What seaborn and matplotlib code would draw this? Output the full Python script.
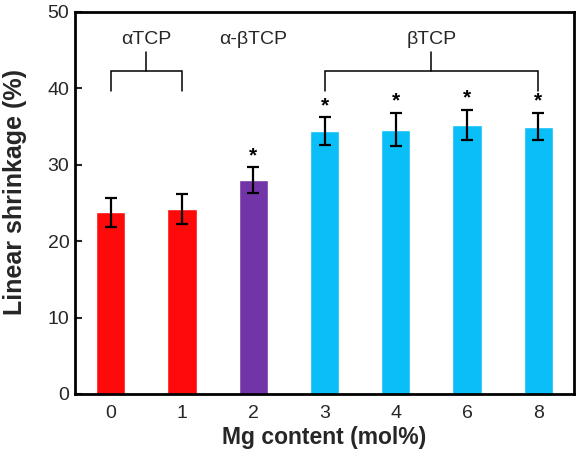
import matplotlib
matplotlib.use("Agg")
import matplotlib.pyplot as plt
import seaborn as sns
import pandas as pd

# ---- data ----
mg_content = ["0", "1", "2", "3", "4", "6", "8"]
shrinkage = [23.8, 24.2, 28.0, 34.4, 34.6, 35.2, 35.0]
shrink_err = [1.9, 2.0, 1.7, 1.85, 2.2, 2.0, 1.8]
phase = ["αTCP", "αTCP", "α-βTCP", "βTCP", "βTCP", "βTCP", "βTCP"]
significant = [False, False, True, True, True, True, True]
phase_colors = {"αTCP": "#FF0A0A", "α-βTCP": "#7334A8", "βTCP": "#0ABEF8"}

df = pd.DataFrame({"mg": mg_content, "shrink": shrinkage, "err": shrink_err, "phase": phase})

sns.set_style("ticks")
plt.rcParams["font.family"] = ["Liberation Sans", "DejaVu Sans"]

fig = plt.figure(figsize=(5.79, 4.59), dpi=100)
ax = fig.add_axes([75 / 579, 65 / 459, 499 / 579, 382 / 459])

sns.barplot(data=df, x="mg", y="shrink", hue="phase", palette=phase_colors,
            dodge=False, width=0.41, legend=False, errorbar=None, ax=ax,
            saturation=1)

xs = list(range(len(mg_content)))
ax.errorbar(xs, shrinkage, yerr=shrink_err, fmt="none", ecolor="black",
            elinewidth=1.6, capsize=4.5, capthick=1.6, zorder=5)

for x, v, e, s in zip(xs, shrinkage, shrink_err, significant):
    if s:
        ax.text(x, v + e + 0.8, "*", ha="center", va="baseline", fontsize=15,
                fontweight="bold", color="black")

# brackets
lw = 1.1
def bracket(x0, x1, label):
    xm = (x0 + x1) / 2
    ax.plot([x0, x0, x1, x1], [39.7, 42.3, 42.3, 39.7], color="black", lw=lw,
            solid_joinstyle="miter")
    ax.plot([xm, xm], [42.3, 44.7], color="black", lw=lw)
    ax.text(xm, 46.4, label, ha="center", va="center", fontsize=14)

bracket(0, 1, "αTCP")
bracket(3, 6, "βTCP")
ax.text(2, 46.4, "α-βTCP", ha="center", va="center", fontsize=14)

ax.set_xlim(-0.5, 6.5)
ax.set_ylim(0, 50)
ax.set_yticks([0, 10, 20, 30, 40, 50])
ax.tick_params(axis="y", direction="in", length=5, width=1.5, labelsize=14, pad=4)
ax.tick_params(axis="x", length=0, labelsize=14, pad=8)
ax.set_xlabel("Mg content (mol%)", fontsize=16.5, fontweight="bold")
ax.set_ylabel("Linear shrinkage (%)", fontsize=18, fontweight="bold")
ax.xaxis.set_label_coords(0.5, -0.085)
ax.yaxis.set_label_coords(-0.096, 0.529)

for sp in ax.spines.values():
    sp.set_visible(True)
    sp.set_linewidth(2)
    sp.set_color("black")

fig.savefig("out.png", dpi=100)
